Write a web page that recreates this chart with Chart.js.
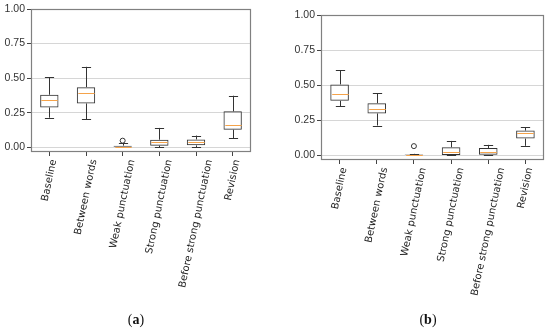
<!DOCTYPE html>
<html><head><meta charset="utf-8">
<script src="https://cdn.jsdelivr.net/npm/chart.js@4"></script>
<style>
html,body{margin:0;padding:0;background:#fff;width:550px;height:332px;overflow:hidden}
.box{position:absolute;top:0;height:332px;width:275px}
#wa{left:0}
#wb{left:275px}
.cap{position:absolute;top:312px;font-family:"Liberation Serif",serif;font-size:14px;color:#111;transform:translateX(-50%);white-space:nowrap}
</style></head><body>
<div class="box" id="wa"><canvas id="ca"></canvas></div>
<div class="box" id="wb"><canvas id="cb"></canvas></div>
<div class="cap" style="left:136px">(<b>a</b>)</div>
<div class="cap" style="left:428px">(<b>b</b>)</div>
<script>
const categories = ["Baseline", "Between words", "Weak punctuation", "Strong punctuation", "Before strong punctuation", "Revision"];
const yTicks = [0, 0.25, 0.5, 0.75, 1.0];

// panel (a)
const aMin = [0.214, 0.204, 0.000, 0.002, 0.002, 0.067];
const aQ1  = [0.288, 0.317, 0.000, 0.012, 0.014, 0.127];
const aMed = [0.344, 0.394, 0.004, 0.036, 0.037, 0.161];
const aQ3  = [0.380, 0.435, 0.012, 0.055, 0.057, 0.260];
const aMax = [0.505, 0.582, 0.030, 0.140, 0.085, 0.373];
const aFliers = [null, null, 0.048, null, null, null];

// panel (b)
const bMin = [0.348, 0.212, 0.000, 0.000, 0.000, 0.067];
const bQ1  = [0.388, 0.298, 0.000, 0.002, 0.000, 0.119];
const bMed = [0.440, 0.331, 0.002, 0.026, 0.026, 0.155];
const bQ3  = [0.505, 0.371, 0.007, 0.057, 0.052, 0.176];
const bMax = [0.605, 0.443, 0.010, 0.102, 0.074, 0.198];
const bFliers = [null, null, 0.065, null, null, null];

const boxPlugin = {
  id: 'boxExtras',
  afterDatasetsDraw(chart, args, opts) {
    const ctx = chart.ctx, xs = chart.scales.x, ys = chart.scales.y, ca = chart.chartArea;
    const unit = xs.getPixelForValue(1) - xs.getPixelForValue(0);
    const half = unit * 0.25, capHalf = unit * 0.125;
    const s = opts.stats;
    const px = v => Math.round(v) + 0.5;
    ctx.save();
    ctx.lineWidth = 1;
    for (let i = 0; i < categories.length; i++) {
      const x = px(xs.getPixelForValue(i));
      const yLo = ys.getPixelForValue(s.min[i]), yQ1 = ys.getPixelForValue(s.q1[i]);
      const yQ3 = ys.getPixelForValue(s.q3[i]), yHi = ys.getPixelForValue(s.max[i]);
      const yMed = ys.getPixelForValue(s.med[i]);
      ctx.strokeStyle = '#333';
      ctx.beginPath();
      ctx.moveTo(x, yQ3); ctx.lineTo(x, yHi);
      ctx.moveTo(x, yQ1); ctx.lineTo(x, yLo);
      ctx.moveTo(x - capHalf, px(yHi)); ctx.lineTo(x + capHalf, px(yHi));
      ctx.moveTo(x - capHalf, px(yLo)); ctx.lineTo(x + capHalf, px(yLo));
      ctx.stroke();
      ctx.strokeStyle = '#f5a34a';
      ctx.beginPath();
      ctx.moveTo(x - half + 1, px(yMed)); ctx.lineTo(x + half - 1, px(yMed));
      ctx.stroke();
    }
    ctx.strokeStyle = '#808080';
    ctx.lineWidth = 1.2;
    ctx.strokeRect(Math.round(ca.left) + 0.5, Math.round(ca.top) + 0.5, Math.round(ca.width) - 1, Math.round(ca.height) - 1);
    ctx.restore();
  },
  afterDraw(chart) {
    const ctx = chart.ctx, xs = chart.scales.x, ca = chart.chartArea;
    const th = 78 * Math.PI / 180;
    ctx.save();
    ctx.font = '10px "DejaVu Sans"';
    ctx.fillStyle = '#222';
    ctx.textAlign = 'center';
    ctx.textBaseline = 'middle';
    categories.forEach((lab, i) => {
      const x = xs.getPixelForValue(i);
      const w = ctx.measureText(lab).width, h = 11;
      const H = w * Math.sin(th) + h * Math.cos(th);
      const cy = ca.bottom + 6.5 + H / 2;
      ctx.save();
      ctx.translate(x, cy);
      ctx.rotate(-th);
      ctx.fillText(lab, 0, 0);
      ctx.restore();
    });
    ctx.restore();
  }
};

function makeChart(id, st, fliers, yAxisW, xAxisH, pad) {
  return new Chart(document.getElementById(id), {
    type: 'bar',
    data: {
      labels: categories,
      datasets: [
        {
          type: 'bar',
          data: categories.map((c, i) => [st.q1[i], st.q3[i]]),
          backgroundColor: 'rgba(0,0,0,0)',
          borderColor: '#333',
          borderWidth: 1,
          borderSkipped: false,
          barPercentage: 0.5,
          categoryPercentage: 1.0
        },
        {
          type: 'line',
          data: fliers,
          showLine: false,
          pointStyle: 'circle',
          pointRadius: 2.5,
          pointBorderWidth: 1,
          pointBackgroundColor: 'rgba(0,0,0,0)',
          pointBorderColor: '#333'
        }
      ]
    },
    options: {
      responsive: true,
      maintainAspectRatio: false,
      animation: false,
      events: [],
      layout: { padding: pad },
      plugins: { legend: { display: false }, tooltip: { enabled: false }, boxExtras: { stats: st } },
      scales: {
        x: {
          type: 'category',
          offset: true,
          border: { display: false },
          grid: { display: true, drawOnChartArea: false, drawTicks: true, tickLength: 4, tickColor: '#444', offset: false },
          ticks: { display: false },
          afterFit: s => { s.height = xAxisH; }
        },
        y: {
          min: -0.034,
          max: 1.0,
          border: { display: false },
          grid: { color: '#d6d6d6', lineWidth: 1, tickColor: '#444', tickLength: 4 },
          afterBuildTicks: s => { s.ticks = yTicks.map(v => ({ value: v })); },
          ticks: {
            padding: 2,
            color: '#333',
            font: { family: '"Liberation Sans"', size: 10.5 },
            callback: v => Number(v).toFixed(2)
          },
          afterFit: s => { s.width = yAxisW; }
        }
      }
    },
    plugins: [boxPlugin]
  });
}

makeChart('ca', { min: aMin, q1: aQ1, med: aMed, q3: aQ3, max: aMax }, aFliers, 31, 180, { top: 9, right: 24, left: 0, bottom: 0 });
makeChart('cb', { min: bMin, q1: bQ1, med: bMed, q3: bQ3, max: bMax }, bFliers, 46, 172, { top: 15, right: 6, left: 0, bottom: 0 });
</script>
</body></html>
